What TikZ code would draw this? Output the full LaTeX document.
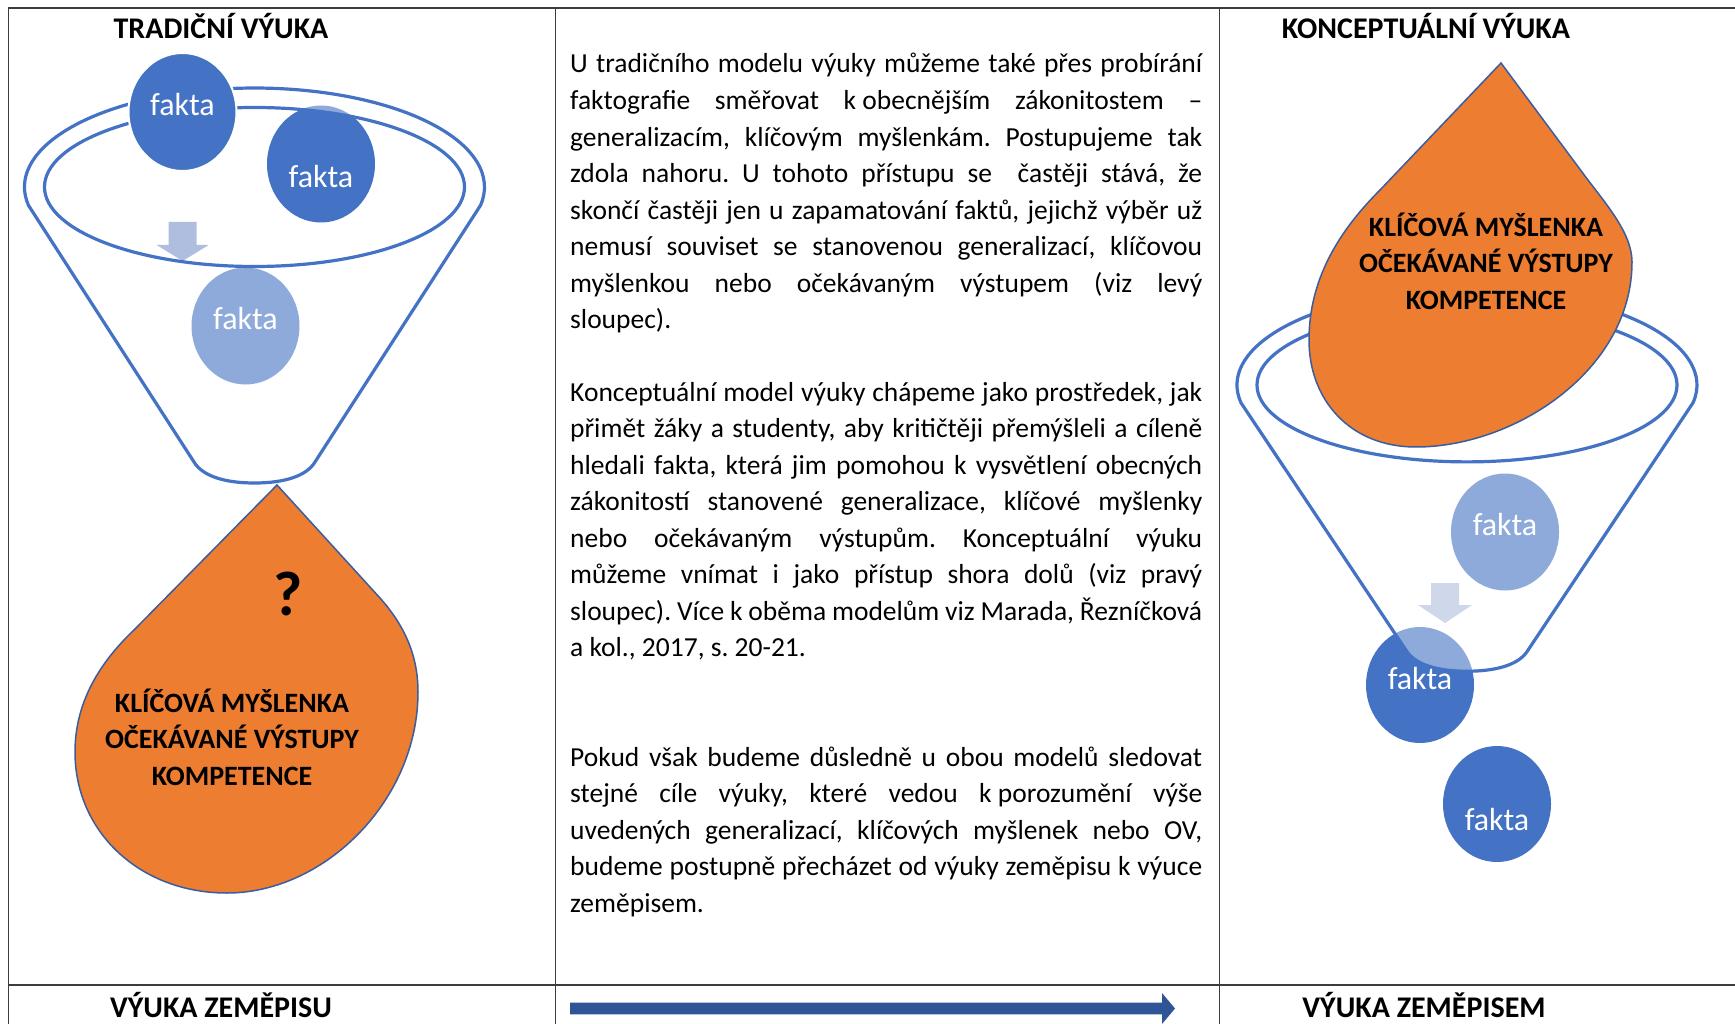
\documentclass[tikz,border=0pt]{standalone}
\usepackage{fontspec}
\setmainfont{Carlito}
\definecolor{fblue}{HTML}{4472C4}
\definecolor{forange}{HTML}{ED7D31}
\definecolor{dropline}{HTML}{3A5DA0}
\definecolor{arrowblue}{RGB}{175,190,223}
\definecolor{bigarrow}{HTML}{2F5597}
\definecolor{gridline}{HTML}{3C3C3C}
\newcommand{\fnlOuter}{(-226,18.4) arc[start angle=169.3, end angle=370.7, x radius=230, y radius=99] -- (60.5,275) .. controls (52,289) and (30,296) .. (0,296) .. controls (-30,296) and (-52,289) .. (-60.5,275) -- cycle}
\newcommand{\jl}[1]{\makebox[632pt][s]{#1}}
\begin{document}
\frenchspacing
\begin{tikzpicture}[x=1pt,y=-1pt,
  grid/.style={draw=gridline, line width=1.3},
  ball/.style={fill=fblue},
  faktatext/.style={text=white, inner sep=0, font=\fontsize{32}{36}\selectfont},
  fnlline/.style={draw=fblue, line width=3.2},
  fnlface/.style={fill=white, fill opacity=0.4, even odd rule},
  dropshape/.style={fill=forange, draw=dropline, line width=1.5},
  droptext/.style={align=center, inner sep=0, font=\fontsize{28}{36.5}\selectfont\bfseries},
  headtext/.style={anchor=base, inner sep=0, font=\fontsize{30}{34}\selectfont\bfseries},
  bodytext/.style={anchor=base west, inner sep=0, font=\fontsize{27.5}{36.55}\selectfont}]
\useasboundingbox (0,0) rectangle (1735,1024);
\fill[white] (0,0) rectangle (1735,1024);

% table
\draw[grid, line width=2] (8,8.5) -- (1735,8.5);
\draw[grid] (8.5,8) -- (8.5,1024);
\draw[grid] (555.5,8) -- (555.5,1024);
\draw[grid] (1219.5,8) -- (1219.5,1024);
\draw[grid, line width=2.4] (8,985) -- (1735,985);

% headers
\node[headtext] (h1) at (221,39) {TRADIČNÍ VÝUKA};
\node[headtext] (h2) at (1426,39) {KONCEPTUÁLNÍ VÝUKA};
\node[headtext] (b1) at (221,1017) {VÝUKA ZEMĚPISU};
\node[headtext] (b2) at (1424,1017) {VÝUKA ZEMĚPISEM};

% bottom arrow
\fill[bigarrow] (570,1002.7) -- (1162,1002.7) -- (1162,993) -- (1175,1008.5) -- (1162,1024) -- (1162,1014.3) -- (570,1014.3) -- cycle;

% middle text
\node[bodytext] (p1) at (570,73) {\parbox[t]{632pt}{%
\jl{U tradičního modelu výuky můžeme také přes probírání}\\
\jl{faktografie směřovat \mbox{k obecnějším} zákonitostem –}\\
\jl{generalizacím, klíčovým myšlenkám. Postupujeme tak}\\
\jl{zdola nahoru. U tohoto přístupu se\ \ častěji stává, že}\\
\jl{skončí častěji jen u zapamatování faktů, jejichž výběr už}\\
\jl{nemusí souviset se stanovenou generalizací, klíčovou}\\
\jl{myšlenkou nebo očekávaným výstupem (viz levý}\\
sloupec).}};
\node[bodytext] (p2) at (570,401) {\parbox[t]{632pt}{%
\jl{Konceptuální model výuky chápeme jako prostředek, jak}\\
\jl{přimět žáky a studenty, aby kritičtěji přemýšleli a cíleně}\\
\jl{hledali fakta, která jim pomohou k vysvětlení obecných}\\
\jl{zákonitostí stanovené generalizace, klíčové myšlenky}\\
\jl{nebo očekávaným výstupům. Konceptuální výuku}\\
\jl{můžeme vnímat i jako přístup shora dolů (viz pravý}\\
\jl{sloupec). Více k oběma modelům viz Marada, Řezníčková}\\
a kol., 2017, s. 20-21.}};
\node[bodytext] (p3) at (570,766) {\parbox[t]{632pt}{%
\jl{Pokud však budeme důsledně u obou modelů sledovat}\\
\jl{stejné cíle výuky, které vedou \mbox{k porozumění} výše}\\
\jl{uvedených generalizací, klíčových myšlenek nebo OV,}\\
\jl{budeme postupně přecházet od výuky zeměpisu k výuce}\\
zeměpisem.}};

% ---------- left funnel ----------
\fill[ball] (321,164) ellipse[x radius=54, y radius=58.5];
\fill[ball] (245.5,326) ellipse[x radius=54, y radius=58.5];
\fill[arrowblue] (168.6,222) -- (196.6,222) -- (196.6,245) -- (208.6,245) -- (182.6,261) -- (156.6,245) -- (168.6,245) -- cycle;
\begin{scope}[shift={(254.5,187)}]
  \path[fnlface] \fnlOuter (0,0) ellipse[x radius=210, y radius=79.5];
  \path[fnlline] \fnlOuter;
  \path[fnlline] (0,0) ellipse[x radius=210, y radius=79.5];
\end{scope}
\filldraw[ball, draw=white, line width=2] (182.5,112) ellipse[x radius=54, y radius=59];
\node[faktatext] (fl1) at (182.5,105) {fakta};
\node[faktatext] (fl2) at (321,177) {fakta};
\node[faktatext] (fl3) at (245.5,319) {fakta};

% left drop
\path[dropshape] (277,485) -- (380,598) .. controls (405,626) and (418,656) .. (418,692) .. controls (418,800) and (325,893) .. (227,893) .. controls (140,893) and (75,832) .. (75,752) .. controls (75,702) and (100,662) .. (135,629) -- cycle;
\node[inner sep=0, font=\fontsize{63}{63}\selectfont\bfseries] (q) at (288,594) {?};
\node[droptext] (dl) at (232,737) {KLÍČOVÁ MYŠLENKA\\OČEKÁVANÉ VÝSTUPY\\KOMPETENCE};

% ---------- right funnel ----------
\fill[ball] (1505,532) ellipse[x radius=54, y radius=58.5];
\fill[arrowblue] (1431,583) -- (1459,583) -- (1459,605) -- (1472,605) -- (1445,623) -- (1418,605) -- (1431,605) -- cycle;
\fill[ball] (1420,685) ellipse[x radius=54, y radius=58];
\fill[ball] (1497,804) ellipse[x radius=54, y radius=58];
\begin{scope}[shift={(1467,385)}, yscale=0.967]
  \path[fnlface] \fnlOuter (0,0) ellipse[x radius=210, y radius=79.5];
  \path[fnlline] \fnlOuter;
  \path[fnlline] (0,0) ellipse[x radius=210, y radius=79.5];
\end{scope}
\node[faktatext] (fr1) at (1505,525) {fakta};
\node[faktatext] (fr2) at (1420,679) {fakta};
\node[faktatext] (fr3) at (1497,820) {fakta};

% right drop
\path[dropshape] (1501,63) -- (1582,172) .. controls (1604,202) and (1632,232) .. (1632,262) .. controls (1632,370) and (1515,447) .. (1416,447) .. controls (1350,447) and (1309,400) .. (1309,340) .. controls (1309,280) and (1338,232) .. (1380,190) -- cycle;
\node[droptext] (dr) at (1486,261) {KLÍČOVÁ MYŠLENKA\\OČEKÁVANÉ VÝSTUPY\\KOMPETENCE};
\end{tikzpicture}
\end{document}
